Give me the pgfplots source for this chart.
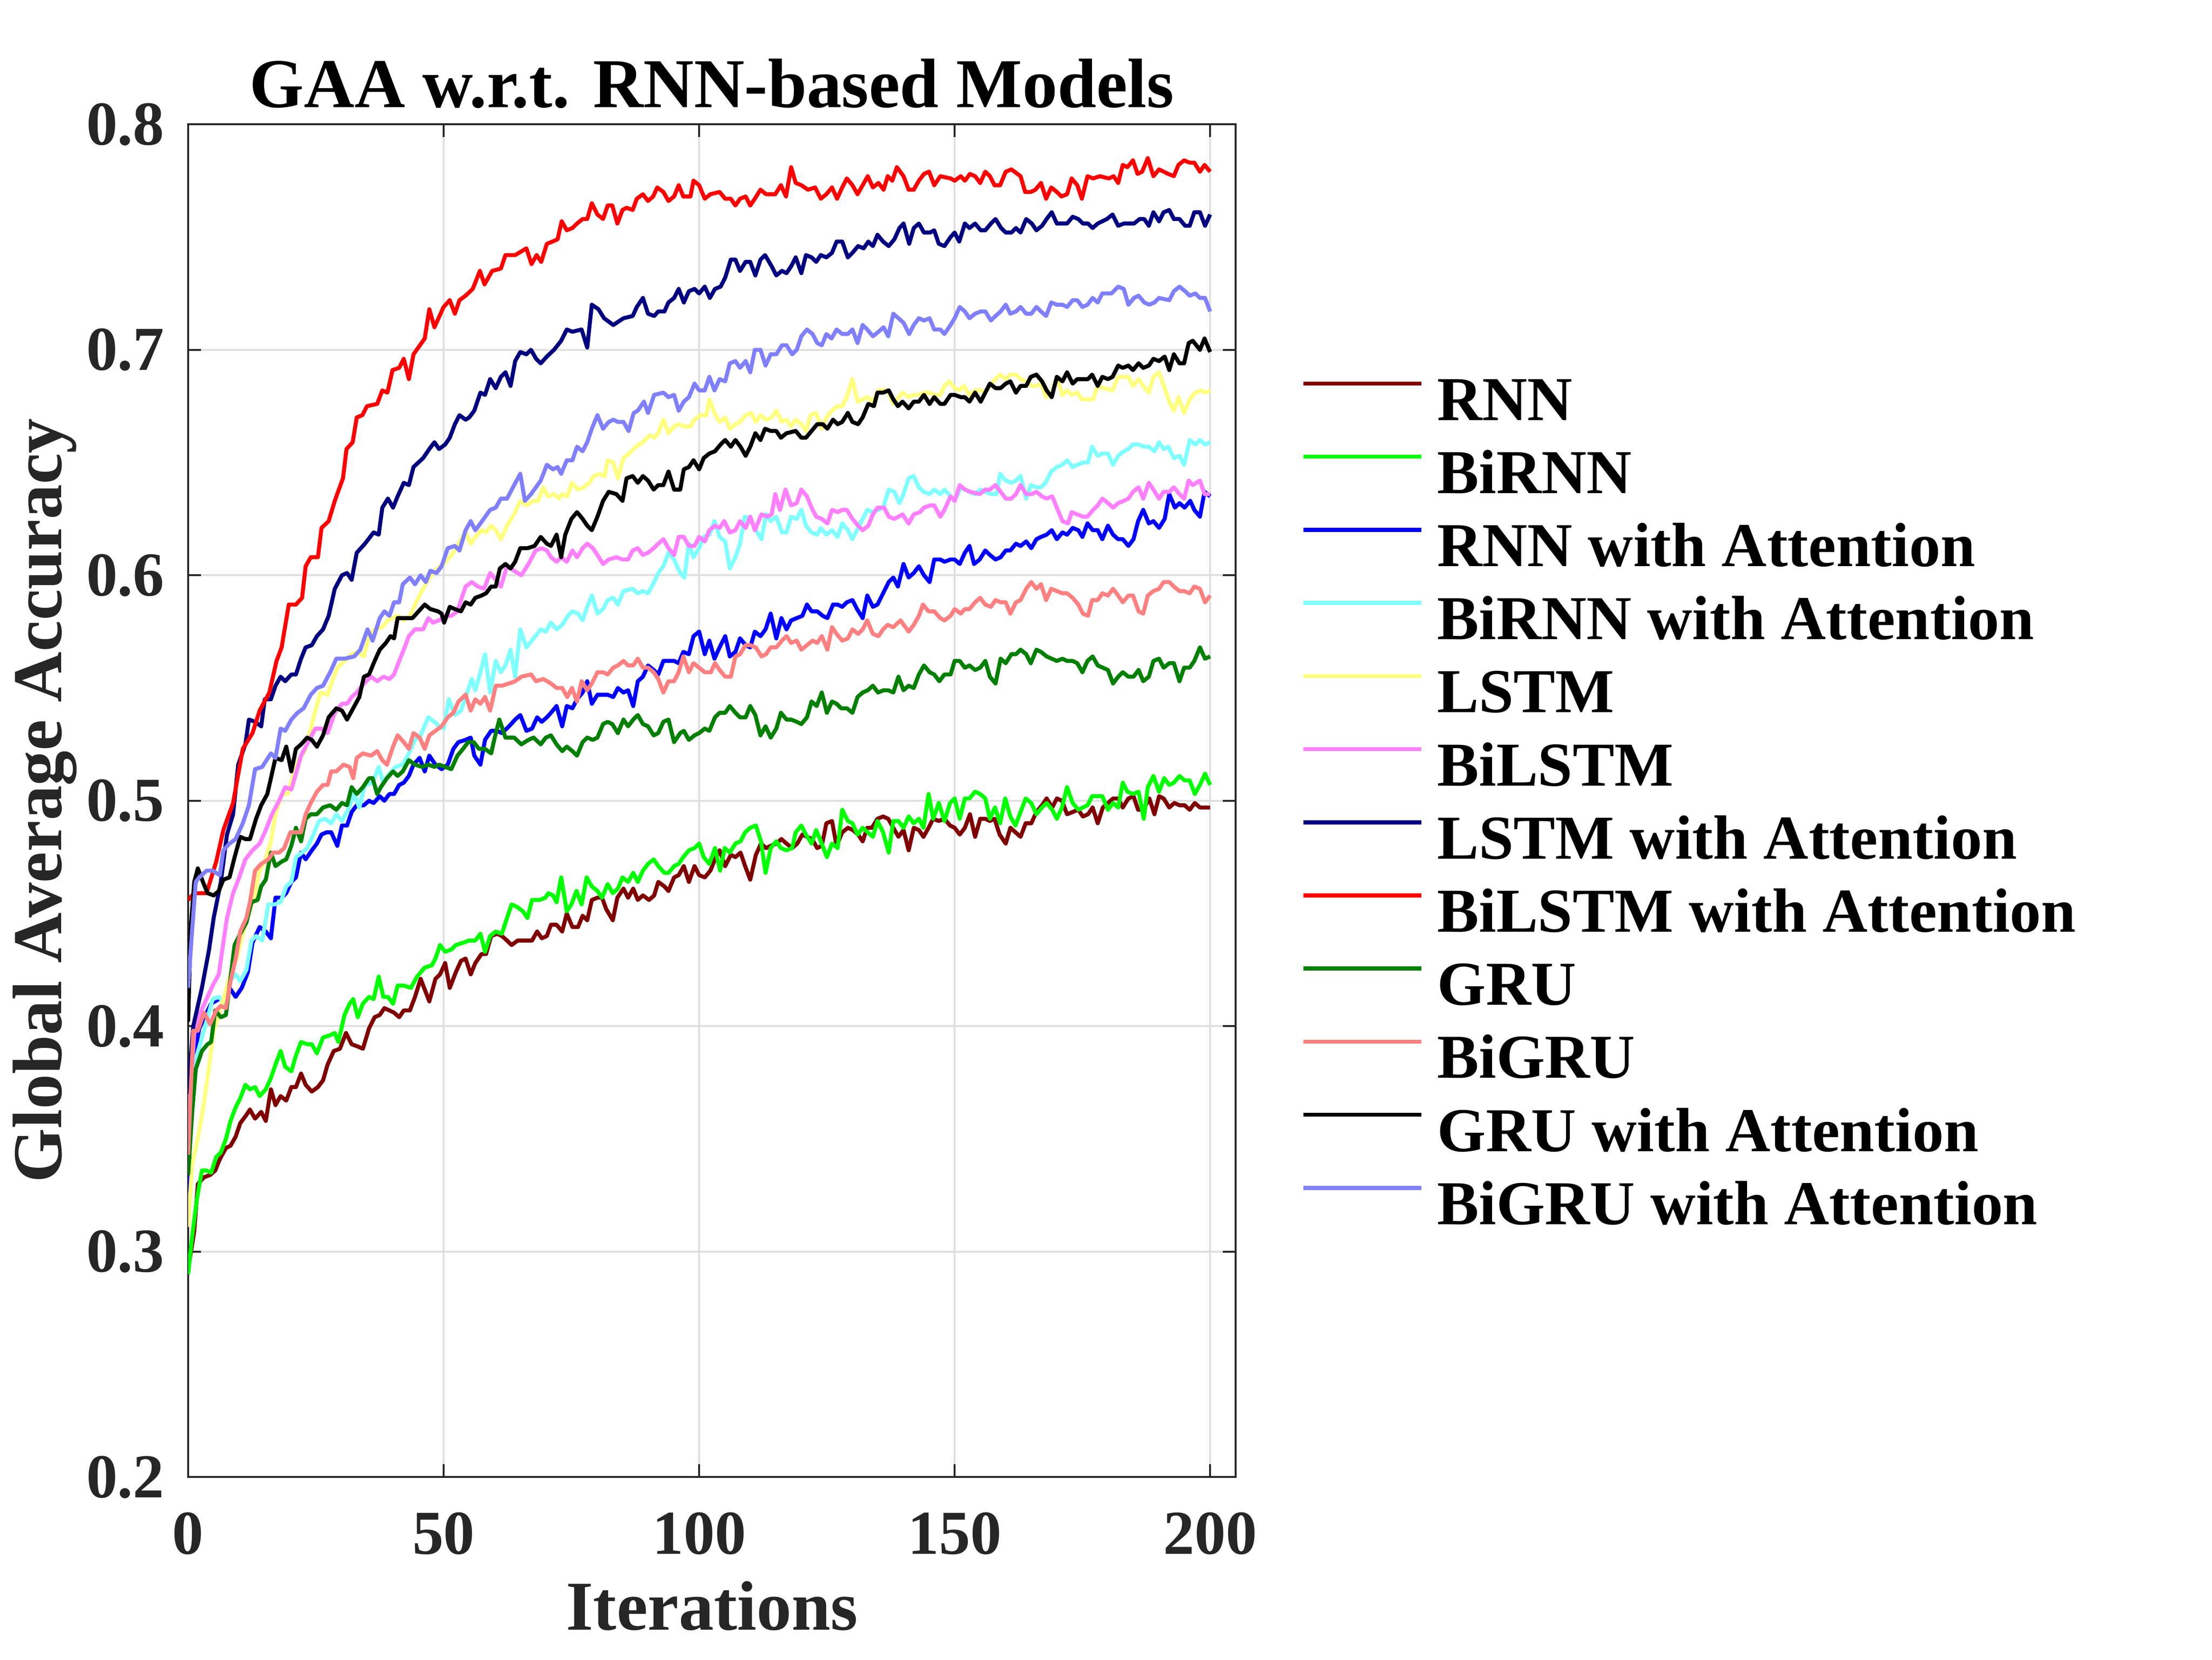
\documentclass[border=0pt]{standalone}
\usepackage{fontspec}
\setmainfont{Liberation Serif}
\usepackage{pgfplots}
\pgfplotsset{compat=1.18}
\definecolor{axgray}{RGB}{38,38,38}
\definecolor{gridgray}{RGB}{223,223,223}
\definecolor{cRNN}{rgb}{0.5,0,0}
\definecolor{cBiRNN}{rgb}{0,1,0}
\definecolor{cRNNA}{rgb}{0,0,1}
\definecolor{cBiRNNA}{rgb}{0.5,1,1}
\definecolor{cLSTM}{rgb}{1,1,0.5}
\definecolor{cBiLSTM}{rgb}{1,0.5,1}
\definecolor{cLSTMA}{rgb}{0,0,0.5}
\definecolor{cBiLSTMA}{rgb}{1,0,0}
\definecolor{cGRU}{rgb}{0,0.5,0}
\definecolor{cBiGRU}{rgb}{1,0.5,0.5}
\definecolor{cGRUA}{rgb}{0,0,0}
\definecolor{cBiGRUA}{rgb}{0.5,0.5,1}
\begin{document}
\begin{tikzpicture}
\useasboundingbox (-1.323cm,-1.283cm) rectangle (14.233cm,10.384cm);
\begin{axis}[
  at={(0,0)}, anchor=south west,
  scale only axis, width=7.367cm, height=9.51cm,
  xmin=0, xmax=205, ymin=0.2, ymax=0.8,
  xtick={0,50,100,150,200},
  ytick={0.2,0.3,0.4,0.5,0.6,0.7,0.8},
  grid=major,
  major grid style={draw=gridgray, line width=0.4pt},
  axis line style={draw=axgray, line width=0.4pt},
  tick style={draw=axgray, line width=0.4pt},
  tick align=inside,
  major tick length=0.09cm,
  /pgf/number format/assume math mode=true,
  yticklabel style={/pgf/number format/fixed, /pgf/number format/precision=1, /pgf/number format/fixed zerofill, anchor=east, inner sep=0pt, xshift=-0.16cm},
  xticklabel style={anchor=base, inner sep=0pt, yshift=-0.54cm},
  tick label style={font=\bfseries\fontsize{12.5}{15}\selectfont, text=axgray},
  every axis title shift=0pt,
  title={GAA w.r.t. RNN-based Models},
  title style={at={(axis description cs:0.5,1)}, anchor=base, yshift=0.12cm, inner sep=0pt, font=\bfseries\fontsize{14}{17}\selectfont},
  xlabel={Iterations},
  xlabel style={at={(axis description cs:0.5,0)}, anchor=base, yshift=-1.075cm, inner sep=0pt, font=\bfseries\fontsize{14}{17}\selectfont, text=axgray},
  ylabel={Global Average Accuracy},
  ylabel style={at={(axis description cs:-0.1212,0.5)}, anchor=base, inner sep=0pt, font=\bfseries\fontsize{14}{17}\selectfont, text=axgray},
  legend style={draw=none, fill=none, at={(axis description cs:1.0628,0.8196)}, anchor=north west, inner sep=0pt, outer sep=0pt, row sep=0pt,
    font=\bfseries\fontsize{12.5}{15}\selectfont,
    nodes={inner sep=0pt, text height=0.364cm, text depth=0.15cm},
    /tikz/every odd column/.append style={column sep=0.097cm}},
  legend cell align=left,
  legend image code/.code={\draw[#1] (0cm,0.15cm) -- (0.83cm,0.15cm);},
  every axis plot/.append style={line width=0.8pt, line join=round, no marks},
]
\addplot[color=cRNN] coordinates {(0,0.292) (1.2,0.309) (1.9,0.330) (3.1,0.333) (4.3,0.334) (5.3,0.336) (6.2,0.341) (7.4,0.346) (8.3,0.347) (9.3,0.351) (10.2,0.357) (11.2,0.360) (12.1,0.363) (13.1,0.359) (14.3,0.362) (15.2,0.358) (16.2,0.372) (17.1,0.365) (18.1,0.369) (19.2,0.367) (20.2,0.373) (21.1,0.373) (22.1,0.379) (23,0.374) (24.2,0.371) (25.4,0.373) (26.4,0.376) (27.3,0.383) (28.5,0.389) (29.7,0.390) (30.9,0.397) (32,0.392) (33.2,0.391) (34.2,0.390) (35.4,0.399) (36.5,0.404) (37.5,0.405) (38.4,0.408) (39.4,0.407) (40.3,0.406) (41.3,0.404) (42.2,0.407) (43.4,0.407) (44.4,0.413) (45.5,0.421) (47.2,0.411) (48.4,0.421) (49.3,0.423) (50.3,0.428) (51.2,0.417) (52.4,0.424) (53.4,0.429) (54.3,0.430) (55.3,0.423) (56.2,0.428) (57.4,0.432) (58.3,0.432) (59.3,0.440) (60.5,0.441) (61.4,0.440) (62.4,0.438) (63.3,0.436) (64.5,0.438) (65.7,0.438) (67.3,0.438) (68.3,0.442) (69.2,0.439) (70.2,0.440) (71,0.445) (72.1,0.445) (73.2,0.442) (74.1,0.450) (75.2,0.444) (76.3,0.444) (77.2,0.449) (78.1,0.447) (79,0.456) (80.1,0.457) (81,0.457) (81.8,0.452) (83.1,0.447) (84,0.457) (85.2,0.461) (86.1,0.457) (87.1,0.461) (88,0.456) (89,0.458) (90.2,0.456) (91.2,0.458) (92,0.464) (93.2,0.462) (94,0.460) (95.1,0.466) (96,0.467) (97,0.471) (98,0.464) (99.1,0.471) (100,0.467) (101.1,0.466) (102.2,0.469) (103.1,0.474) (104,0.478) (105.1,0.471) (106.2,0.476) (107.1,0.475) (108.1,0.477) (109,0.471) (110,0.465) (111.1,0.476) (112.1,0.481) (113.1,0.479) (114,0.480) (115.1,0.481) (116.1,0.483) (117.1,0.481) (118.2,0.479) (119.2,0.481) (120.2,0.485) (121.1,0.484) (122.1,0.483) (123.1,0.479) (124,0.480) (124.9,0.490) (126,0.491) (126.9,0.480) (128,0.486) (129.1,0.488) (130.1,0.487) (131.1,0.485) (132,0.482) (132.9,0.488) (133.8,0.488) (134.9,0.492) (136,0.493) (137,0.492) (138,0.488) (139,0.484) (140,0.487) (141,0.478) (142,0.488) (143,0.487) (143.9,0.484) (144.9,0.488) (145.8,0.492) (146.9,0.491) (148,0.492) (149.1,0.489) (150,0.488) (151,0.485) (152,0.488) (153,0.494) (154,0.484) (155,0.492) (156,0.492) (156.9,0.491) (157.8,0.492) (158.8,0.485) (160,0.481) (160.9,0.488) (161.9,0.486) (162.9,0.484) (163.9,0.490) (165,0.490) (166,0.495) (167.1,0.498) (168,0.501) (169.1,0.497) (170,0.501) (171,0.500) (172,0.494) (173.1,0.495) (174.2,0.496) (175.1,0.493) (176.1,0.494) (177,0.497) (178,0.490) (179,0.497) (180,0.499) (181,0.501) (182,0.501) (182.9,0.497) (184,0.501) (185,0.502) (185.9,0.496) (186.9,0.496) (188.1,0.501) (189.1,0.494) (190,0.502) (190.9,0.501) (192,0.497) (193,0.499) (194,0.498) (195,0.498) (196,0.496) (197,0.499) (198,0.497) (199,0.497) (200,0.497)};
\addlegendentry{RNN}
\addplot[color=cBiRNN] coordinates {(0,0.290) (0.8,0.307) (1.7,0.323) (2.7,0.336) (3.6,0.336) (4.5,0.335) (5.5,0.342) (6.4,0.344) (7.4,0.350) (8.3,0.358) (9.3,0.364) (10.2,0.368) (11.2,0.374) (12.1,0.372) (13.1,0.373) (14,0.369) (15.2,0.372) (16.2,0.377) (17.1,0.383) (18.1,0.389) (19,0.382) (20.2,0.380) (21.1,0.387) (22.1,0.393) (23.3,0.392) (24.2,0.392) (25.2,0.388) (26.4,0.395) (27.8,0.396) (28.7,0.397) (29.4,0.393) (30.6,0.405) (31.6,0.410) (32.3,0.412) (33.2,0.404) (34.2,0.410) (35.4,0.413) (36.3,0.412) (37.3,0.422) (38.2,0.413) (39.1,0.413) (40.1,0.410) (41,0.418) (42.2,0.418) (43.6,0.417) (44.8,0.422) (46.3,0.426) (47.7,0.427) (48.4,0.430) (49.3,0.436) (50.3,0.433) (51.5,0.434) (52.4,0.436) (53.8,0.437) (55,0.438) (56.2,0.438) (57.2,0.441) (58.1,0.433) (59.1,0.440) (60.2,0.442) (61.4,0.441) (62.4,0.448) (63.3,0.454) (64.3,0.453) (65.5,0.451) (66.4,0.448) (67.3,0.456) (68.8,0.456) (69.9,0.457) (70.5,0.459) (71.4,0.458) (72.1,0.455) (73,0.466) (74.1,0.451) (75,0.454) (76,0.460) (77,0.454) (78,0.466) (79,0.462) (80.1,0.460) (81,0.457) (82.1,0.463) (83.1,0.459) (84.1,0.461) (85,0.466) (86.1,0.464) (87.1,0.468) (88,0.464) (89,0.469) (90,0.472) (91.1,0.474) (92,0.471) (93.2,0.468) (94,0.468) (95.1,0.471) (96,0.472) (96.9,0.475) (98,0.478) (99.1,0.479) (100,0.481) (100.9,0.475) (102,0.472) (103.1,0.479) (104.1,0.469) (105,0.479) (106,0.477) (107.1,0.481) (108.1,0.482) (109,0.486) (110,0.488) (111.1,0.489) (112.1,0.482) (113,0.468) (114,0.479) (115.1,0.482) (116,0.479) (117.1,0.478) (118.2,0.479) (118.9,0.486) (120,0.489) (120.9,0.485) (122,0.481) (122.9,0.487) (124,0.481) (125,0.475) (126,0.481) (127.1,0.479) (128,0.496) (129.1,0.491) (130,0.490) (131,0.485) (132,0.488) (133,0.486) (134,0.484) (134.9,0.491) (136,0.486) (137.1,0.477) (138,0.491) (139,0.491) (140,0.488) (141,0.493) (142,0.490) (143,0.492) (143.9,0.488) (144.9,0.503) (145.8,0.492) (146.9,0.499) (148,0.491) (149.1,0.499) (150,0.501) (151,0.492) (152,0.501) (152.9,0.501) (154,0.504) (155,0.503) (156,0.501) (156.9,0.492) (157.9,0.497) (158.9,0.490) (159.9,0.501) (160.9,0.493) (161.9,0.489) (162.9,0.495) (163.9,0.501) (165,0.499) (166,0.494) (167.1,0.497) (168,0.499) (169.1,0.496) (170,0.492) (171,0.497) (172,0.506) (173.1,0.499) (174.2,0.496) (175.1,0.497) (176,0.498) (176.9,0.502) (178,0.502) (178.9,0.502) (180,0.496) (181,0.499) (182,0.497) (182.9,0.508) (183.8,0.504) (184.9,0.503) (186,0.504) (187,0.492) (187.8,0.506) (188.9,0.511) (190,0.504) (191,0.510) (192,0.507) (192.9,0.508) (194,0.511) (195,0.509) (196,0.509) (197,0.503) (198,0.507) (199,0.512) (200,0.507)};
\addlegendentry{BiRNN}
\addplot[color=cRNNA] coordinates {(0,0.320) (0.5,0.366) (1.2,0.387) (2.2,0.399) (3.4,0.405) (4.5,0.410) (6,0.412) (6.9,0.412) (8.1,0.417) (9.3,0.413) (10.5,0.417) (11.7,0.424) (12.6,0.437) (14,0.444) (15.2,0.442) (16.2,0.439) (17.1,0.457) (18.3,0.457) (19.2,0.459) (20.2,0.464) (21.1,0.466) (22.1,0.477) (23,0.474) (24.2,0.478) (25.2,0.481) (26.1,0.485) (27.1,0.486) (28,0.486) (29.2,0.480) (30.1,0.489) (31.1,0.489) (32,0.495) (33,0.498) (34.4,0.498) (35.4,0.500) (36.3,0.499) (37.5,0.502) (38.4,0.500) (39.4,0.503) (40.3,0.503) (41.3,0.507) (42.2,0.508) (43.2,0.511) (44.1,0.516) (45.3,0.519) (46.3,0.513) (47.2,0.520) (48.4,0.516) (49.6,0.514) (50.8,0.516) (51.9,0.523) (52.9,0.526) (54.3,0.527) (55.3,0.528) (56,0.520) (57.2,0.516) (58.1,0.527) (59.3,0.531) (60.5,0.531) (61.4,0.530) (62.8,0.533) (64,0.536) (65,0.538) (66.2,0.531) (67.3,0.532) (68.3,0.537) (69.2,0.535) (70.2,0.537) (71,0.539) (72.1,0.542) (73.2,0.533) (74.1,0.542) (75.2,0.541) (76.1,0.545) (77.2,0.548) (78.1,0.553) (79,0.543) (80.1,0.547) (81.2,0.547) (82.1,0.547) (83.2,0.546) (84.1,0.550) (85.2,0.548) (86.1,0.549) (87.1,0.542) (88,0.553) (89,0.555) (90,0.560) (91.1,0.558) (92,0.556) (93,0.562) (94,0.562) (95.1,0.562) (96,0.561) (96.9,0.566) (98,0.565) (98.9,0.573) (100,0.575) (101.1,0.565) (102,0.571) (103,0.563) (104,0.568) (105.1,0.573) (106,0.564) (107.1,0.566) (108,0.572) (109.1,0.569) (110,0.568) (110.9,0.575) (112,0.573) (113,0.576) (114,0.583) (115.1,0.572) (116.1,0.581) (117.1,0.576) (118,0.580) (119.1,0.581) (120.2,0.582) (121.1,0.587) (122,0.584) (123.1,0.584) (124.2,0.582) (125.1,0.581) (126.2,0.587) (127.1,0.587) (128,0.586) (128.9,0.588) (130,0.589) (130.9,0.585) (132,0.581) (132.9,0.591) (134,0.586) (134.9,0.587) (136,0.592) (137.1,0.597) (138,0.599) (138.9,0.595) (140,0.605) (141,0.599) (142,0.601) (143,0.604) (144,0.600) (145.1,0.597) (146,0.607) (147.2,0.607) (148,0.606) (149.2,0.607) (150,0.607) (151,0.605) (152,0.610) (152.9,0.613) (153.8,0.605) (154.9,0.607) (156,0.611) (156.9,0.609) (158,0.607) (159,0.608) (160,0.611) (160.9,0.611) (162,0.614) (162.9,0.613) (164,0.615) (165,0.612) (166,0.616) (166.9,0.617) (168,0.618) (169,0.620) (170,0.616) (171.1,0.619) (172,0.618) (173.1,0.621) (174.2,0.620) (175,0.617) (176,0.623) (177,0.620) (178,0.620) (178.9,0.616) (180,0.622) (181,0.618) (182,0.616) (182.9,0.616) (184,0.613) (185,0.616) (185.9,0.624) (186.9,0.629) (188,0.623) (188.9,0.624) (190,0.621) (191.1,0.625) (192,0.636) (193.1,0.630) (194,0.632) (195,0.630) (196.1,0.633) (196.9,0.629) (198,0.626) (198.9,0.637) (200,0.635)};
\addlegendentry{RNN with Attention}
\addplot[color=cBiRNNA] coordinates {(0,0.335) (0.8,0.380) (1.7,0.387) (3.1,0.398) (4.8,0.412) (6,0.413) (7.2,0.410) (8.1,0.420) (9.3,0.423) (10.2,0.420) (11.4,0.425) (12.4,0.438) (13.3,0.440) (14.5,0.438) (15.7,0.454) (16.9,0.454) (18.1,0.455) (19.2,0.462) (20.2,0.464) (21.1,0.475) (22.3,0.477) (23.3,0.479) (24.5,0.485) (25.6,0.491) (26.8,0.492) (28,0.490) (29,0.494) (30.1,0.491) (31.3,0.496) (32.5,0.503) (33.5,0.497) (34.6,0.507) (36.1,0.508) (37.3,0.515) (38.2,0.508) (39.4,0.512) (40.6,0.515) (42,0.516) (43.2,0.521) (44.4,0.527) (45.5,0.529) (47,0.537) (48.2,0.535) (49.1,0.533) (50,0.532) (51,0.545) (52.2,0.538) (53.4,0.540) (54.3,0.546) (55.5,0.554) (56.2,0.549) (57.2,0.557) (58.1,0.565) (59.1,0.548) (60.2,0.562) (61.2,0.557) (62.1,0.560) (63.1,0.567) (64,0.555) (65,0.576) (66.2,0.568) (67.6,0.572) (69,0.576) (70,0.575) (71,0.579) (72.1,0.576) (73.2,0.578) (74.3,0.582) (75.2,0.584) (76.3,0.583) (77.2,0.580) (78.1,0.586) (79,0.591) (80.1,0.583) (81.2,0.585) (82.1,0.589) (83.2,0.590) (84.1,0.587) (85.2,0.593) (87,0.594) (88,0.592) (89,0.593) (90,0.592) (91.2,0.597) (92,0.601) (93,0.604) (94,0.610) (95.1,0.607) (96.3,0.601) (97.1,0.599) (98,0.614) (98.9,0.608) (100,0.612) (100.9,0.617) (102,0.618) (103,0.624) (104,0.617) (105.1,0.615) (106,0.603) (107.1,0.608) (108,0.614) (108.9,0.626) (110,0.625) (111.1,0.620) (112.2,0.616) (113.1,0.627) (114,0.624) (115.1,0.626) (116.2,0.619) (117.1,0.619) (118,0.626) (119.1,0.625) (120,0.629) (120.9,0.622) (122,0.619) (123.1,0.618) (123.8,0.621) (124.9,0.618) (126,0.620) (127.1,0.617) (128,0.623) (129.1,0.620) (130,0.616) (131.1,0.621) (132,0.625) (132.9,0.629) (134,0.628) (134.9,0.629) (136,0.630) (137.1,0.638) (138.2,0.637) (139.2,0.632) (140,0.636) (141,0.643) (142,0.644) (143,0.639) (144,0.637) (145.1,0.636) (146,0.638) (147.2,0.636) (148,0.638) (149.2,0.635) (150,0.633) (151.2,0.639) (152,0.638) (152.9,0.637) (154,0.636) (155.1,0.638) (156,0.637) (157.1,0.636) (158.2,0.636) (158.9,0.645) (160,0.642) (161.1,0.641) (162,0.642) (162.9,0.644) (164,0.634) (164.9,0.640) (166,0.639) (166.9,0.639) (167.8,0.641) (168.9,0.646) (170,0.648) (171.1,0.649) (172,0.651) (173.1,0.648) (174,0.649) (175.1,0.650) (176.1,0.650) (176.9,0.657) (178,0.653) (178.9,0.654) (180,0.654) (181,0.649) (182,0.653) (183.1,0.655) (184,0.656) (184.9,0.658) (186,0.658) (187.1,0.657) (188,0.657) (189.1,0.655) (190,0.659) (190.9,0.656) (191.8,0.657) (192.9,0.652) (194,0.653) (194.9,0.649) (196,0.660) (197.1,0.658) (198,0.660) (199,0.658) (200,0.659)};
\addlegendentry{BiRNN with Attention}
\addplot[color=cLSTM] coordinates {(0,0.311) (0.8,0.339) (1.9,0.350) (3.1,0.366) (4.1,0.382) (5,0.398) (6,0.405) (6.9,0.412) (8.3,0.423) (9.5,0.430) (10.7,0.441) (11.9,0.450) (13.1,0.459) (14,0.469) (15,0.473) (16.2,0.482) (17.1,0.494) (18.3,0.503) (19.5,0.503) (20.4,0.510) (21.6,0.518) (22.8,0.522) (24,0.532) (24.9,0.540) (25.9,0.548) (27.3,0.547) (28.2,0.553) (29.2,0.559) (30.6,0.562) (32,0.565) (33.2,0.566) (34.4,0.564) (35.4,0.573) (36.5,0.576) (38,0.577) (39.1,0.580) (40.1,0.581) (41,0.582) (42.2,0.580) (43.4,0.582) (44.6,0.588) (45.5,0.592) (46.7,0.597) (47.9,0.601) (48.9,0.603) (50,0.605) (51.2,0.608) (52.2,0.611) (53.4,0.616) (54.3,0.619) (55.3,0.614) (56.2,0.617) (57.4,0.620) (58.3,0.619) (59.3,0.622) (60.2,0.620) (61.2,0.616) (62.4,0.622) (63.8,0.627) (65,0.633) (66.2,0.631) (67.6,0.633) (68.5,0.633) (69.5,0.639) (70.4,0.635) (71.6,0.636) (72.6,0.634) (73.2,0.636) (74.2,0.635) (75.1,0.641) (76.3,0.638) (77.4,0.639) (78.5,0.641) (79.4,0.644) (80.5,0.645) (81.5,0.644) (82.1,0.651) (83.2,0.650) (84.1,0.643) (85.2,0.652) (86.3,0.654) (87.6,0.657) (89,0.659) (90.3,0.662) (91.2,0.661) (92,0.663) (93,0.669) (94,0.663) (95.1,0.666) (96,0.667) (97.1,0.666) (98.3,0.666) (99.1,0.669) (100.3,0.671) (101.4,0.671) (102,0.678) (103,0.672) (104,0.668) (105.1,0.670) (106,0.665) (107.1,0.667) (108,0.668) (109.1,0.671) (110.2,0.672) (111.1,0.668) (112,0.671) (113.1,0.669) (114.2,0.670) (115.1,0.673) (116.2,0.668) (117.1,0.669) (118,0.666) (118.9,0.669) (120,0.667) (120.9,0.664) (121.8,0.671) (122.9,0.672) (124,0.665) (124.9,0.670) (126,0.673) (127.1,0.675) (128,0.675) (128.9,0.679) (130,0.687) (131,0.677) (132,0.678) (132.9,0.679) (134,0.677) (135.1,0.682) (136,0.682) (136.9,0.682) (138,0.676) (139.8,0.681) (141,0.679) (142,0.680) (143,0.680) (144,0.681) (145.1,0.681) (146,0.680) (147.2,0.680) (148,0.684) (149,0.686) (150,0.683) (150.9,0.682) (151.8,0.684) (152.9,0.680) (154,0.682) (155.1,0.682) (156,0.681) (157.1,0.685) (158,0.687) (158.9,0.689) (160,0.687) (160.9,0.689) (162,0.689) (162.9,0.687) (164,0.686) (165.1,0.684) (166,0.684) (166.9,0.685) (167.9,0.679) (168.9,0.680) (170,0.688) (171.1,0.680) (172,0.682) (172.9,0.680) (174,0.681) (174.9,0.678) (176,0.678) (177.1,0.678) (178,0.684) (179.1,0.683) (180.9,0.682) (182,0.688) (183.1,0.688) (184,0.688) (184.9,0.684) (186,0.687) (186.9,0.684) (188,0.681) (188.9,0.688) (190,0.690) (191.1,0.683) (192,0.677) (192.9,0.673) (193.8,0.679) (194.9,0.672) (196,0.678) (197.1,0.681) (198.2,0.682) (199.1,0.681) (200,0.682)};
\addlegendentry{LSTM}
\addplot[color=cBiLSTM] coordinates {(0,0.355) (1.2,0.397) (2.2,0.405) (3.6,0.412) (4.8,0.418) (6,0.423) (6.7,0.434) (7.6,0.448) (8.8,0.459) (10,0.466) (11.2,0.474) (12.6,0.478) (14,0.481) (15.2,0.487) (16.4,0.494) (17.8,0.500) (19,0.506) (20.2,0.505) (21.1,0.512) (22.1,0.520) (23.5,0.526) (24.9,0.532) (26.1,0.532) (27.3,0.530) (28.7,0.539) (30.1,0.543) (31.1,0.543) (32,0.546) (33,0.548) (34.4,0.552) (35.8,0.555) (37,0.553) (38.2,0.555) (39.4,0.554) (40.3,0.556) (41.3,0.562) (42.2,0.567) (43.2,0.573) (44.4,0.576) (46,0.576) (47,0.581) (47.9,0.579) (49.1,0.580) (50.3,0.582) (51.5,0.582) (52.7,0.584) (53.4,0.589) (54.3,0.595) (55.5,0.597) (56.7,0.595) (57.9,0.594) (59.1,0.601) (60.2,0.598) (61.2,0.595) (62.4,0.604) (63.8,0.602) (65.2,0.600) (66.6,0.605) (68,0.611) (69.2,0.612) (70.2,0.611) (71,0.608) (72.1,0.606) (73,0.608) (74.1,0.606) (75.2,0.611) (76.1,0.608) (77.2,0.612) (78.1,0.614) (79.2,0.612) (80.1,0.609) (81.2,0.605) (82.3,0.607) (83.8,0.608) (85,0.607) (86.1,0.607) (87,0.611) (88,0.612) (89,0.609) (90,0.610) (91.1,0.612) (92,0.614) (93,0.616) (94,0.612) (95.1,0.609) (96,0.617) (97,0.617) (98,0.613) (99.1,0.613) (100,0.617) (101.1,0.615) (102,0.620) (103.1,0.622) (104,0.621) (104.9,0.624) (106,0.619) (107.1,0.620) (108,0.624) (109.1,0.621) (110,0.626) (110.9,0.620) (112.2,0.627) (113.3,0.626) (114.2,0.627) (114.9,0.636) (115.8,0.629) (116.9,0.638) (118,0.631) (119.1,0.632) (120,0.638) (121.1,0.635) (122,0.630) (122.9,0.626) (124,0.625) (125.1,0.623) (126,0.629) (127.1,0.628) (128,0.629) (128.9,0.629) (130,0.625) (131.1,0.622) (132,0.620) (133.1,0.622) (134,0.627) (134.9,0.630) (136.2,0.630) (137.1,0.626) (138.2,0.625) (139.8,0.627) (141,0.623) (142,0.627) (143.2,0.628) (144,0.630) (145.2,0.631) (146,0.631) (147.2,0.626) (148,0.629) (149.2,0.635) (150,0.633) (151,0.640) (152,0.638) (153.1,0.637) (154.9,0.636) (156,0.638) (156.9,0.638) (158,0.640) (159,0.637) (160,0.634) (161.1,0.634) (162,0.636) (162.9,0.640) (164,0.636) (165.1,0.636) (166,0.637) (167.1,0.635) (168,0.634) (169.1,0.635) (170,0.630) (171.1,0.624) (172.2,0.623) (172.9,0.628) (174,0.627) (175.1,0.626) (176,0.626) (177.1,0.629) (178,0.631) (178.9,0.634) (180,0.632) (181,0.630) (182,0.632) (183.1,0.633) (184,0.634) (184.9,0.637) (186,0.639) (186.9,0.634) (188,0.641) (188.9,0.638) (190,0.634) (190.9,0.637) (192,0.637) (192.9,0.639) (194,0.636) (194.9,0.634) (195.8,0.642) (196.6,0.640) (198,0.642) (198.9,0.636) (200,0.636)};
\addlegendentry{BiLSTM}
\addplot[color=cLSTMA] coordinates {(0,0.370) (1,0.400) (2.7,0.417) (4.1,0.434) (5,0.448) (6.4,0.464) (7.6,0.485) (8.8,0.494) (9.8,0.516) (11.2,0.525) (11.9,0.536) (13.1,0.535) (14.3,0.533) (15,0.545) (16.2,0.545) (17.1,0.551) (18.1,0.555) (19,0.553) (20.2,0.556) (21.1,0.556) (22.1,0.563) (23,0.568) (24.2,0.569) (25.2,0.573) (26.4,0.576) (27.5,0.582) (28.7,0.594) (30.1,0.600) (31.1,0.601) (32,0.598) (33,0.610) (34.6,0.614) (36.3,0.619) (37.3,0.618) (38,0.630) (39.1,0.634) (40.1,0.630) (41,0.635) (42.2,0.641) (43.2,0.640) (44.1,0.648) (46,0.652) (47.2,0.656) (48.2,0.659) (49.1,0.656) (50.3,0.658) (51.2,0.661) (52.2,0.667) (53.1,0.671) (54.3,0.669) (55,0.670) (56,0.673) (57.2,0.681) (58.1,0.680) (59.1,0.687) (60.2,0.683) (61.2,0.688) (62.1,0.690) (63.1,0.684) (64,0.695) (65,0.699) (66.2,0.698) (67.1,0.700) (68.1,0.696) (69,0.694) (70.2,0.697) (71.6,0.700) (73,0.704) (74.1,0.709) (75.2,0.708) (77,0.709) (78.1,0.701) (79,0.720) (80.3,0.718) (81.4,0.714) (83.2,0.711) (85.2,0.714) (87,0.715) (87.8,0.719) (89,0.723) (90,0.716) (91.2,0.715) (92,0.717) (93.2,0.717) (94,0.721) (95.1,0.723) (96,0.727) (97,0.721) (98,0.726) (99.1,0.727) (100,0.725) (101.1,0.728) (102.1,0.723) (103.1,0.727) (104.2,0.728) (105.1,0.732) (106.2,0.740) (107.1,0.740) (108,0.735) (109.1,0.739) (110,0.739) (111,0.733) (112,0.740) (112.9,0.742) (114.2,0.737) (115.1,0.733) (116.2,0.735) (117.1,0.734) (118,0.737) (118.9,0.741) (120,0.734) (120.9,0.742) (122,0.741) (122.9,0.739) (123.8,0.742) (124.9,0.741) (126,0.743) (126.9,0.748) (128,0.748) (129.1,0.741) (130,0.743) (131.1,0.746) (132.2,0.745) (133.1,0.748) (134,0.746) (134.9,0.751) (136,0.748) (137.1,0.746) (138.2,0.749) (139.2,0.754) (140,0.756) (141.1,0.747) (142,0.754) (143,0.756) (144,0.752) (145.2,0.752) (146,0.753) (146.9,0.747) (148,0.746) (149.2,0.750) (150,0.752) (150.9,0.748) (152,0.756) (152.9,0.754) (154,0.756) (155.1,0.753) (156,0.753) (157.1,0.756) (158,0.758) (159.1,0.754) (160,0.752) (161.1,0.752) (162,0.754) (162.9,0.752) (164,0.758) (165.1,0.756) (166,0.753) (167.1,0.755) (168,0.758) (169,0.761) (170,0.756) (172,0.756) (173.1,0.759) (174.2,0.758) (175.1,0.756) (176.1,0.756) (177,0.754) (178,0.756) (179.8,0.758) (180.9,0.760) (182,0.755) (183.1,0.756) (184.2,0.756) (185.1,0.756) (186.2,0.758) (187.1,0.758) (188,0.755) (188.9,0.761) (190,0.757) (190.9,0.761) (192,0.762) (192.9,0.758) (194,0.758) (195.1,0.755) (196,0.755) (196.9,0.761) (198,0.761) (199,0.755) (200,0.760)};
\addlegendentry{LSTM with Attention}
\addplot[color=cBiLSTMA] coordinates {(0,0.456) (1.2,0.459) (3.6,0.459) (5.5,0.473) (6.9,0.487) (8.8,0.499) (10.7,0.523) (12.6,0.530) (14,0.540) (15.9,0.548) (17.3,0.562) (18.3,0.568) (19.7,0.587) (21.1,0.587) (22.3,0.590) (23,0.604) (24,0.608) (25.4,0.608) (26.1,0.621) (27.5,0.624) (28.7,0.633) (30.3,0.643) (31,0.656) (32.2,0.659) (33,0.670) (34.1,0.671) (35,0.675) (37,0.676) (38,0.682) (39,0.681) (40,0.691) (41.3,0.692) (42.2,0.696) (43.2,0.687) (44.1,0.698) (46.3,0.705) (47.2,0.718) (48.2,0.710) (50,0.719) (51.2,0.722) (52.2,0.716) (53.1,0.722) (54.3,0.724) (55.7,0.727) (57.1,0.735) (58,0.729) (59.5,0.735) (61.2,0.736) (62.1,0.742) (64,0.742) (66.2,0.745) (67.2,0.738) (68.2,0.742) (69.1,0.739) (70.2,0.747) (71.3,0.748) (72.3,0.749) (73.1,0.757) (74.1,0.753) (75.2,0.754) (76.1,0.756) (77.2,0.758) (78.1,0.758) (79,0.765) (80.1,0.760) (81.2,0.758) (82.1,0.764) (83,0.764) (84,0.756) (85,0.762) (85.8,0.763) (87,0.762) (87.8,0.767) (89,0.769) (90,0.766) (91,0.768) (91.8,0.772) (93,0.770) (94,0.766) (95.1,0.768) (96,0.773) (96.9,0.768) (98.3,0.768) (98.9,0.775) (100,0.773) (101.1,0.767) (102.2,0.769) (104,0.770) (105.1,0.767) (106.2,0.767) (107.1,0.764) (108,0.767) (109.1,0.768) (110,0.764) (110.9,0.767) (112,0.771) (113.1,0.769) (114.9,0.769) (116,0.773) (117,0.768) (118,0.781) (118.9,0.774) (120,0.773) (121.3,0.771) (122.7,0.772) (123.8,0.767) (124.9,0.769) (126,0.772) (127,0.767) (128,0.772) (128.9,0.776) (130,0.773) (131,0.769) (132,0.773) (133,0.777) (134,0.772) (135.1,0.774) (136.1,0.771) (136.9,0.777) (137.8,0.775) (138.7,0.781) (140,0.777) (141,0.771) (142,0.771) (143,0.775) (144,0.778) (145,0.779) (146,0.773) (147.2,0.777) (149.2,0.776) (150,0.775) (151.2,0.777) (152,0.775) (153,0.778) (154,0.777) (155,0.774) (156,0.779) (156.9,0.777) (157.8,0.773) (158.9,0.773) (160,0.779) (161.1,0.780) (162.9,0.777) (163.8,0.770) (164.9,0.770) (165.8,0.771) (166.9,0.774) (167.9,0.767) (168.9,0.772) (170,0.770) (170.9,0.768) (172,0.769) (172.9,0.776) (174,0.773) (174.9,0.767) (176,0.777) (177.1,0.776) (178.4,0.777) (180.2,0.776) (181.1,0.777) (182,0.774) (182.9,0.782) (183.8,0.781) (184.9,0.784) (185.8,0.778) (186.7,0.779) (187.8,0.785) (188.9,0.777) (190,0.780) (191.8,0.778) (192.9,0.777) (193.8,0.782) (194.9,0.784) (196,0.783) (196.9,0.783) (198,0.779) (198.9,0.782) (200,0.779)};
\addlegendentry{BiLSTM with Attention}
\addplot[color=cGRU] coordinates {(0,0.334) (0.8,0.362) (1.5,0.381) (2.7,0.389) (3.8,0.392) (4.5,0.393) (5.3,0.407) (6.4,0.404) (7.4,0.405) (8.1,0.418) (9.1,0.436) (10.2,0.441) (11.4,0.446) (12.4,0.455) (13.6,0.456) (14.3,0.462) (15.2,0.465) (16.2,0.477) (17.1,0.471) (18.3,0.473) (19.2,0.474) (20.2,0.480) (21.1,0.488) (22.1,0.482) (23,0.492) (24,0.494) (25.2,0.494) (26.4,0.497) (27.8,0.498) (29,0.496) (30.1,0.499) (31.1,0.498) (32,0.506) (33,0.503) (34.2,0.506) (35.4,0.510) (36.1,0.510) (37,0.503) (37.7,0.506) (38.9,0.510) (40.1,0.513) (41,0.511) (42,0.513) (43.2,0.518) (44.4,0.516) (45.8,0.515) (47,0.516) (48.2,0.515) (49.1,0.516) (50.3,0.515) (51.5,0.514) (52.7,0.520) (53.8,0.523) (54.8,0.526) (55.9,0.526) (56.9,0.523) (58.1,0.523) (59.3,0.521) (60,0.528) (60.9,0.536) (62.1,0.528) (63.8,0.528) (65.2,0.525) (66.6,0.527) (67.6,0.528) (69,0.525) (70,0.528) (71,0.529) (72.1,0.525) (73.2,0.522) (74.1,0.524) (75.2,0.522) (76.1,0.520) (77.2,0.526) (78.1,0.528) (79.2,0.527) (80.1,0.528) (81.2,0.534) (82.1,0.535) (83,0.534) (84.1,0.530) (85.2,0.536) (86.1,0.533) (87.1,0.536) (88,0.538) (89,0.534) (90,0.533) (91.1,0.529) (92,0.530) (93,0.535) (94,0.536) (95.1,0.526) (96.3,0.530) (97,0.531) (98,0.527) (99.1,0.529) (100,0.530) (101.1,0.532) (102,0.531) (103.1,0.537) (104,0.539) (105.1,0.539) (106,0.542) (107.1,0.539) (108,0.537) (109.1,0.537) (110,0.542) (111,0.538) (112,0.529) (113,0.533) (114,0.528) (115.1,0.532) (116,0.539) (117.1,0.536) (118,0.536) (119.1,0.535) (120,0.534) (121.1,0.537) (122,0.544) (123,0.542) (124,0.548) (125,0.539) (126,0.544) (126.9,0.543) (127.8,0.541) (128.9,0.541) (130,0.539) (131,0.546) (132,0.548) (133,0.549) (134,0.551) (135,0.548) (136.1,0.549) (137,0.549) (138,0.548) (139,0.555) (140,0.549) (141,0.551) (142,0.550) (143,0.556) (144,0.560) (145.1,0.557) (146,0.556) (147,0.553) (148,0.556) (149.2,0.556) (150,0.562) (151,0.562) (152,0.559) (152.9,0.560) (154,0.558) (155,0.559) (156,0.562) (156.9,0.555) (158,0.552) (159,0.563) (160,0.561) (161.1,0.565) (162,0.565) (162.9,0.567) (164,0.565) (164.9,0.561) (166,0.567) (166.9,0.566) (168,0.564) (169,0.563) (170,0.562) (171.1,0.563) (172,0.562) (173.1,0.562) (174,0.561) (175,0.557) (176,0.562) (177,0.564) (178,0.560) (180,0.558) (181,0.552) (182,0.555) (182.9,0.557) (184,0.555) (185,0.555) (186,0.558) (186.9,0.553) (188,0.555) (188.9,0.562) (190,0.563) (190.9,0.559) (192,0.561) (192.9,0.561) (194,0.553) (194.9,0.559) (196,0.559) (196.9,0.562) (198,0.568) (199,0.563) (200,0.564)};
\addlegendentry{GRU}
\addplot[color=cBiGRU] coordinates {(0,0.343) (1,0.398) (1.9,0.398) (3.1,0.406) (4.3,0.401) (5.5,0.407) (6.4,0.409) (7.4,0.408) (8.3,0.420) (9.3,0.430) (10.2,0.442) (11.4,0.448) (12.1,0.455) (13.1,0.469) (14.3,0.472) (15.7,0.474) (16.6,0.477) (17.8,0.477) (18.8,0.479) (20,0.486) (21.4,0.486) (22.1,0.486) (23,0.494) (24,0.499) (25.2,0.504) (26.4,0.507) (27.3,0.507) (28,0.513) (29,0.513) (30.4,0.516) (31.6,0.515) (32.3,0.510) (33,0.519) (34.2,0.521) (35.8,0.520) (37,0.522) (38,0.518) (38.9,0.516) (40.1,0.524) (41,0.529) (42.2,0.526) (43.2,0.523) (44.1,0.530) (45.3,0.528) (46.3,0.523) (47.2,0.529) (48.4,0.531) (49.6,0.533) (50.8,0.537) (51.9,0.539) (52.9,0.544) (54.3,0.547) (55.3,0.540) (56.2,0.545) (57.2,0.543) (58.1,0.546) (59.1,0.540) (60.2,0.551) (61.4,0.551) (62.8,0.552) (64,0.553) (65.2,0.555) (67.1,0.556) (68.1,0.553) (69.5,0.554) (71,0.552) (72.1,0.550) (73.2,0.550) (74.2,0.546) (75.1,0.550) (76.1,0.544) (77,0.553) (78.1,0.549) (79,0.552) (80.1,0.557) (81.2,0.557) (82.1,0.556) (83.2,0.559) (84.1,0.560) (85.2,0.562) (86.1,0.560) (87.1,0.560) (88,0.563) (89,0.559) (90,0.559) (91.1,0.557) (92,0.554) (93,0.548) (94,0.553) (95.1,0.553) (96,0.557) (96.9,0.564) (98,0.557) (98.9,0.561) (100,0.559) (101.1,0.557) (102.3,0.557) (103.1,0.561) (104,0.558) (105.1,0.555) (106.2,0.555) (107.1,0.564) (108,0.565) (109.1,0.569) (110,0.569) (111.1,0.568) (112.2,0.564) (113.1,0.565) (114,0.568) (115.1,0.568) (116.2,0.571) (117.1,0.573) (118,0.570) (119.1,0.571) (120,0.567) (121.1,0.569) (122.2,0.571) (123.1,0.570) (124,0.573) (125.1,0.567) (126,0.577) (126.9,0.574) (128,0.571) (129.1,0.572) (130,0.576) (131.1,0.574) (132,0.576) (132.9,0.580) (134,0.574) (135.1,0.573) (136,0.576) (136.9,0.578) (138,0.577) (139.4,0.580) (141,0.575) (142,0.578) (143,0.582) (143.8,0.587) (144.9,0.584) (146,0.584) (147.2,0.581) (148,0.580) (149.2,0.582) (150,0.585) (151.2,0.583) (152,0.585) (152.9,0.585) (154,0.588) (155,0.590) (156,0.587) (157.1,0.586) (158,0.589) (159,0.588) (160,0.588) (160.9,0.583) (162,0.588) (162.9,0.589) (164,0.594) (165,0.597) (166,0.594) (166.9,0.596) (167.9,0.589) (168.9,0.594) (170,0.593) (171.1,0.592) (172,0.592) (173.1,0.590) (174.2,0.587) (175.1,0.583) (176.1,0.582) (176.9,0.589) (178,0.589) (178.9,0.592) (180,0.591) (181,0.594) (182,0.591) (182.9,0.588) (184,0.591) (184.9,0.591) (186,0.584) (186.9,0.583) (187.8,0.591) (188.9,0.593) (190,0.594) (190.9,0.597) (192,0.597) (192.9,0.595) (194,0.593) (194.9,0.593) (196,0.592) (196.9,0.595) (198,0.594) (199,0.588) (200,0.591)};
\addlegendentry{BiGRU}
\addplot[color=cGRUA] coordinates {(0,0.402) (0.5,0.443) (1.2,0.464) (1.9,0.470) (2.9,0.464) (3.8,0.459) (5,0.458) (6,0.460) (6.9,0.465) (8.1,0.466) (9.1,0.475) (10.2,0.484) (11.2,0.483) (12.1,0.483) (13.3,0.492) (14.3,0.498) (15.5,0.503) (16.4,0.512) (17.1,0.519) (18.3,0.518) (19.2,0.524) (20.2,0.513) (21.1,0.523) (22.1,0.525) (23.3,0.528) (24.2,0.527) (25.2,0.524) (26.4,0.529) (27.5,0.537) (29,0.541) (30.1,0.540) (31.1,0.536) (32.3,0.541) (33.5,0.546) (34.4,0.555) (35.4,0.556) (36.5,0.562) (37.5,0.567) (38.7,0.570) (39.6,0.573) (40.3,0.572) (41,0.581) (42.7,0.581) (43.9,0.581) (45.1,0.584) (46.3,0.587) (47.4,0.585) (48.9,0.584) (49.6,0.583) (50.1,0.579) (51.2,0.586) (52.2,0.585) (53.4,0.584) (54.3,0.588) (55.3,0.587) (56.2,0.590) (57.4,0.591) (58.3,0.592) (59.3,0.595) (60.2,0.595) (61,0.603) (62.1,0.605) (63.1,0.603) (64,0.606) (65,0.612) (66.4,0.612) (67.8,0.613) (69,0.617) (70.2,0.614) (71,0.613) (72.1,0.618) (73,0.608) (73.8,0.618) (75,0.625) (76.1,0.628) (77.2,0.625) (78.1,0.622) (79,0.620) (80.1,0.626) (81.2,0.633) (82.3,0.637) (83.8,0.636) (85,0.633) (85.8,0.643) (87,0.644) (88,0.641) (89,0.644) (90,0.642) (91.1,0.638) (92,0.640) (93,0.640) (94,0.646) (95.1,0.638) (96.3,0.638) (97,0.647) (98,0.648) (98.9,0.651) (100,0.647) (100.9,0.652) (102,0.654) (103.1,0.655) (104.2,0.658) (105.1,0.660) (106.2,0.657) (107.1,0.660) (108.1,0.657) (109.1,0.653) (110,0.657) (111,0.663) (112,0.660) (112.9,0.665) (114,0.664) (115.1,0.664) (116,0.661) (117.1,0.663) (118.9,0.664) (120,0.661) (120.9,0.661) (122,0.664) (123.1,0.667) (124.2,0.667) (125.1,0.665) (126.2,0.669) (127.1,0.667) (128,0.668) (129.1,0.672) (130,0.668) (131.1,0.667) (132,0.670) (133.1,0.676) (134.2,0.675) (134.9,0.681) (136,0.681) (137.1,0.682) (138,0.678) (138.9,0.675) (139.8,0.677) (141,0.674) (142,0.677) (143,0.677) (144,0.680) (145.1,0.676) (146,0.679) (147.2,0.676) (148,0.676) (149.2,0.680) (150,0.680) (151.2,0.679) (152,0.679) (152.9,0.677) (154,0.681) (155.1,0.677) (156,0.681) (156.9,0.685) (158,0.683) (159,0.683) (160,0.685) (160.9,0.686) (162,0.681) (162.9,0.684) (164,0.684) (164.9,0.688) (166,0.689) (167.1,0.686) (168,0.682) (169,0.679) (170,0.688) (171.1,0.686) (172,0.690) (173.1,0.685) (174,0.687) (175.1,0.687) (176.1,0.687) (176.9,0.689) (178,0.684) (178.9,0.688) (180,0.687) (180.9,0.688) (182,0.693) (182.9,0.692) (184,0.693) (184.9,0.691) (186,0.694) (186.9,0.692) (188,0.693) (188.9,0.696) (190,0.695) (191.1,0.697) (192,0.691) (192.9,0.698) (194,0.694) (194.9,0.694) (195.8,0.703) (196.6,0.704) (198,0.700) (198.9,0.705) (200,0.699)};
\addlegendentry{GRU with Attention}
\addplot[color=cBiGRUA] coordinates {(0,0.417) (0.8,0.443) (1.5,0.464) (2.2,0.466) (3.6,0.469) (4.8,0.469) (6.2,0.467) (6.9,0.478) (8.1,0.481) (9.3,0.483) (10.7,0.490) (11.9,0.498) (13.1,0.514) (14.5,0.515) (16.2,0.521) (17.1,0.519) (18.1,0.532) (19,0.531) (20.2,0.536) (21.4,0.539) (22.6,0.541) (24,0.547) (25.2,0.550) (26.4,0.551) (27.8,0.557) (29,0.563) (30.6,0.563) (32.5,0.564) (33.7,0.567) (35.1,0.576) (36.1,0.571) (37.5,0.581) (38.4,0.584) (39.4,0.582) (40.3,0.588) (41.3,0.588) (42,0.596) (43.4,0.599) (44.4,0.596) (45.5,0.600) (46.5,0.597) (47.4,0.602) (48.6,0.601) (49.6,0.604) (50.8,0.612) (52.2,0.613) (53.1,0.611) (54.3,0.620) (55.3,0.624) (56.2,0.620) (57.2,0.623) (59.1,0.629) (60.2,0.630) (61.2,0.634) (62.4,0.634) (63.8,0.640) (65,0.645) (65.9,0.633) (67.1,0.636) (69,0.642) (70.2,0.649) (71.4,0.647) (72.3,0.648) (73,0.645) (74.1,0.651) (75.2,0.651) (76.1,0.657) (77.2,0.655) (78.1,0.659) (79,0.665) (80.1,0.671) (81.2,0.665) (82.3,0.668) (83.2,0.669) (84.1,0.668) (85.2,0.668) (86.2,0.664) (87.2,0.672) (88,0.673) (89.2,0.677) (90,0.672) (91.2,0.680) (93,0.681) (94,0.679) (95.1,0.680) (96,0.673) (97,0.677) (98,0.679) (99.1,0.685) (100,0.682) (101.1,0.682) (102,0.688) (103,0.682) (104,0.687) (105.1,0.686) (106,0.694) (107.1,0.695) (108,0.692) (109.1,0.695) (110,0.690) (110.9,0.700) (112,0.700) (113,0.693) (114,0.698) (115.1,0.698) (116.2,0.702) (117.1,0.702) (118.2,0.698) (119.1,0.700) (120,0.706) (121.1,0.709) (122.2,0.707) (123.1,0.703) (124,0.702) (124.9,0.707) (125.9,0.705) (126.9,0.709) (128,0.707) (129.1,0.707) (130,0.709) (131,0.703) (132,0.711) (132.9,0.709) (134,0.706) (135.1,0.708) (136.1,0.710) (137,0.706) (138,0.716) (139,0.714) (140,0.712) (141.1,0.707) (142,0.711) (143,0.714) (144,0.713) (145.1,0.714) (146,0.709) (147.2,0.709) (148,0.707) (149.2,0.711) (150,0.714) (151,0.719) (152,0.717) (152.9,0.714) (154,0.716) (155.1,0.717) (156,0.717) (157.1,0.713) (158,0.715) (159,0.717) (160,0.720) (160.9,0.716) (162,0.717) (162.9,0.719) (164,0.716) (165,0.716) (166,0.719) (166.9,0.717) (167.9,0.715) (168.9,0.721) (170,0.720) (171.1,0.720) (172,0.719) (173.1,0.722) (174,0.722) (175,0.719) (176,0.720) (177,0.723) (178,0.721) (178.9,0.725) (180.7,0.725) (182,0.728) (183.1,0.727) (184,0.720) (185.1,0.723) (186,0.724) (187.1,0.721) (188.1,0.720) (189.1,0.721) (190,0.723) (192,0.722) (192.9,0.726) (194,0.728) (195.1,0.726) (196,0.724) (197.1,0.725) (198,0.723) (199,0.723) (200,0.717)};
\addlegendentry{BiGRU with Attention}
\end{axis}
\end{tikzpicture}
\end{document}
